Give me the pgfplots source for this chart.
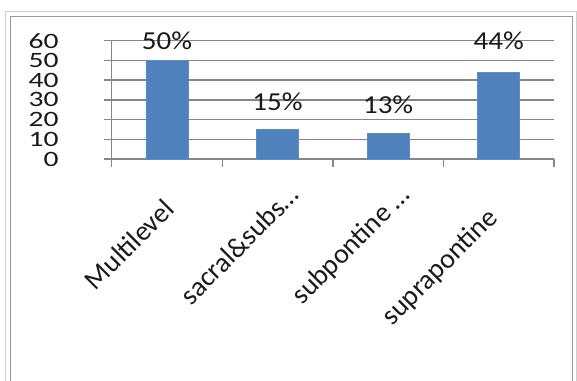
\documentclass[border=0pt]{standalone}
\usepackage{pgfplots}
\pgfplotsset{compat=1.18}
\usepackage{fontspec}
\setmainfont{Carlito}
\usepackage{graphicx}
\definecolor{barblue}{HTML}{4F81BD}
\definecolor{baredge}{HTML}{5B8CC8}
\definecolor{gridc}{HTML}{868686}
\definecolor{frameout}{HTML}{CFCFCF}
\definecolor{framein}{HTML}{9A9A9A}
\definecolor{txt}{HTML}{1A1A1A}
\newcommand\sx[1]{\scalebox{1.12}[1]{#1}}
\newcommand\sy[1]{\scalebox{1.35}[1]{#1}}
\begin{document}
\begin{tikzpicture}
\path[use as bounding box] (0bp,0bp) rectangle (577bp,381bp);
\draw[frameout, line width=1bp] (5.5bp,0bp) -- (5.5bp,369.5bp) -- (576.7bp,369.5bp) -- (576.7bp,0bp);
\draw[framein, line width=1.6bp] (10.5bp,0bp) -- (10.5bp,364.5bp) -- (572.5bp,364.5bp) -- (572.5bp,0bp);
\begin{axis}[
  at={(111.7bp,222bp)}, anchor=south west,
  scale only axis, width=442.3bp, height=118.3bp,
  xmin=-0.5, xmax=3.5, ymin=0, ymax=60,
  clip=false,
  axis x line*=bottom, axis y line*=left,
  axis line style={gridc, line width=1.3bp},
  ytick={0,10,20,30,40,50,60},
  ymajorgrids,
  major grid style={gridc, line width=1.3bp},
  tick style={gridc, line width=1.3bp},
  tick align=outside,
  major tick length=8bp,
  minor tick length=8bp,
  xtick={0,1,2,3},
  minor xtick={-0.5,0.5,1.5,2.5,3.5},
  major x tick style={draw=none},
  xticklabels={Multilevel, sacral\&subs\ldots\hspace*{-20bp}, subpontine \ldots\hspace*{-20bp}, suprapontine\hspace*{12bp}},
  xticklabel style={inner sep=0pt, font=\fontsize{28}{31}\selectfont, text=txt, xshift=9bp, yshift=-44bp, rotate=45, anchor=base east},
  yticklabel={\sy{\pgfmathprintnumber{\tick}}},
  yticklabel style={anchor=east, inner sep=0pt, font=\fontsize{22}{25}\selectfont, text=txt, xshift=-45bp},
  /pgf/number format/assume math mode=true,
]
\addplot[ybar, bar width=42bp, fill=barblue, draw=baredge, line width=0.8bp] coordinates {(0,50) (1,15) (2,13) (3,44)};
\addplot[draw=none, mark=none, point meta=explicit symbolic,
  nodes near coords={\sx{\pgfplotspointmeta}},
  nodes near coords style={anchor=center, inner sep=0pt, font=\fontsize{26}{29}\selectfont, text=txt}]
  coordinates {(0,60)[50\%] (1,29.1)[15\%] (2,27.4)[13\%] (3,60)[44\%]};
\end{axis}
\end{tikzpicture}
\end{document}
